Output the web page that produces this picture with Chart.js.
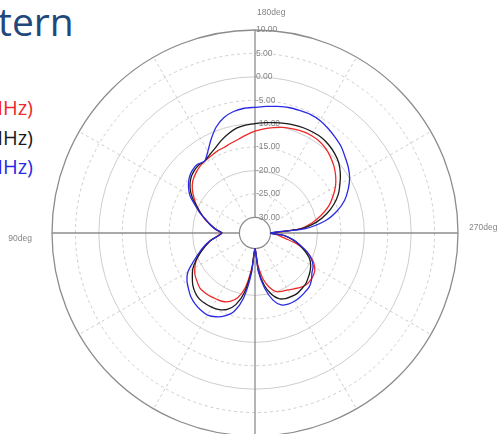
<!DOCTYPE html>
<html>
<head>
<meta charset="utf-8">
<script src="https://cdn.jsdelivr.net/npm/chart.js@4.4.1/dist/chart.umd.min.js"></script>
<style>
  html, body { margin: 0; padding: 0; width: 504px; height: 434px; overflow: hidden; background: #fff; }
  #wrap { position: absolute; left: 0; top: 0; width: 504px; height: 440px; }
  .title { position: absolute; left: -2px; top: -6px; font-family: "Open Sans"; font-size: 39px; color: #1f497d; }
  .leg { position: absolute; left: -15px; font-family: "Open Sans"; font-size: 20px; line-height: 22px; }
</style>
</head>
<body>
<div class="title">tern</div>
<div class="leg" style="top:97px;color:#f02828">MHz)</div>
<div class="leg" style="top:127px;color:#1a1a1a">MHz)</div>
<div class="leg" style="top:156px;color:#2a2ae6">MHz)</div>
<div id="wrap"><canvas id="myChart"></canvas></div>
<script>
// pattern samples, dB, for angles 0,5,...,355 deg (0deg = bottom, 90deg = left)
var angleStep = 5;
var redGain = [-30, -26.0, -21.5, -19.0, -17.8, -17.2, -17.0, -16.8, -16.7, -16.7, -17.2, -17.7, -18.5, -19.5, -20.8, -22.3, -23.6, -25.2,
  -26.0, -25.0, -23.8, -22.3, -21.0, -19.6, -18.3, -17.0, -16.0, -15.4, -14.9, -14.6, -14.4, -14.1, -13.9, -13.5, -13.0, -12.3,
  -11.6, -11.0, -10.5, -10.0, -9.7, -9.4, -9.3, -9.4, -9.8, -10.5, -11.3, -12.3, -13.5, -15.0, -16.6, -18.7, -21.0, -24.0,
  -29.5, -28.5, -26.8, -23.9, -21.6, -19.8, -18.6, -18.0, -17.8, -17.8, -18.2, -18.8, -19.3, -19.6, -20.0, -21.3, -23.3, -26.5];
var blackGain = [-30, -25.5, -20.5, -17.5, -16.0, -15.3, -15.0, -14.9, -14.9, -15.3, -16.0, -17.0, -18.0, -19.4, -20.9, -22.3, -23.6, -25.3,
  -26.3, -25.0, -23.8, -22.5, -21.0, -19.5, -17.8, -16.4, -15.4, -14.8, -14.5, -14.6, -14.0, -13.3, -12.3, -11.4, -10.6, -10.2,
  -10.0, -9.7, -9.4, -9.1, -8.8, -8.6, -8.5, -8.5, -8.8, -9.3, -10.0, -11.1, -12.4, -13.7, -15.4, -17.5, -20.0, -23.5,
  -30, -27.0, -25.2, -23.5, -22.0, -20.5, -19.6, -19.0, -18.5, -18.0, -17.8, -17.6, -17.7, -17.9, -18.4, -19.8, -22.0, -25.5];
var blueGain = [-30, -24.8, -19.2, -16.0, -14.5, -13.6, -13.1, -13.2, -13.5, -14.0, -14.8, -15.6, -16.8, -18.8, -20.5, -22.0, -23.5, -25.3,
  -26.2, -25.0, -23.7, -22.5, -20.8, -19.2, -17.3, -16.0, -15.0, -14.4, -14.2, -14.6, -13.2, -11.2, -9.2, -7.8, -7.0, -6.6,
  -6.5, -6.2, -5.9, -5.6, -5.5, -5.4, -5.6, -6.1, -6.7, -7.3, -8.2, -9.0, -10.0, -11.4, -13.0, -15.2, -18.0, -22.5,
  -30, -27.0, -25.0, -23.3, -21.5, -20.0, -19.0, -18.5, -17.6, -17.0, -16.8, -16.6, -16.5, -16.6, -17.0, -18.5, -21.3, -25.0];

var radiusTicks = [10, 5, 0, -5, -10, -15, -20, -25, -30];
var angleTicks = [180, 270, 90];
var rMin = -33.33, rMax = 10;

document.addEventListener('DOMContentLoaded', function () {

    // chart index 0 sits at the top, so start the list at 180deg and go clockwise
    var labels = [];
    var red = [], black = [], blue = [];
    var n = 360 / angleStep;
    for (var i = 0; i < n; i++) {
        var a = (180 + i * angleStep) % 360;
        var k = a / angleStep;
        labels.push(a);
        red.push(redGain[k]);
        black.push(blackGain[k]);
        blue.push(blueGain[k]);
    }

    function angleAt(index) {
        return labels[index];
    }

    var polarExtras = {
        id: 'polarExtras',
        beforeDatasetsDraw: function (chart) {
            var s = chart.scales.r;
            var ctx = chart.ctx;
            var r0 = s.getDistanceFromCenterForValue(-30);
            var R = s.getDistanceFromCenterForValue(rMax);
            ctx.save();
            ctx.beginPath();
            ctx.arc(s.xCenter, s.yCenter, r0, 0, Math.PI * 2);
            ctx.fillStyle = '#fff';
            ctx.fill();
            ctx.lineWidth = 1.2;
            ctx.strokeStyle = '#8c8c8c';
            ctx.stroke();

            ctx.font = '8.5px "Liberation Sans"';
            ctx.fillStyle = '#858585';
            ctx.textBaseline = 'middle';
            ctx.textAlign = 'left';
            radiusTicks.forEach(function (v) {
                ctx.fillText(v.toFixed(2), s.xCenter + 1, s.yCenter - s.getDistanceFromCenterForValue(v));
            });

            angleTicks.forEach(function (a) {
                var idx = labels.indexOf(a);
                var p;
                if (a === 180) {
                    p = s.getPointPosition(idx, R + 17);
                    ctx.textAlign = 'left';
                    ctx.fillText(a + 'deg', p.x + 2, p.y);
                } else if (a === 270) {
                    p = s.getPointPosition(idx, R + 11);
                    ctx.textAlign = 'left';
                    ctx.fillText(a + 'deg', p.x, p.y - 5);
                } else {
                    p = s.getPointPosition(idx, R + 20);
                    ctx.textAlign = 'right';
                    ctx.fillText(a + 'deg', p.x, p.y + 6);
                }
            });
            ctx.restore();
        }
    };

    var ctx = document.getElementById('myChart');
    var polarChart = new Chart(ctx, {
        type: 'radar',
        data: {
            labels: labels,
            datasets: [
                { label: 'blue', data: blue, borderColor: '#2a2ae6' },
                { label: 'black', data: black, borderColor: '#1a1a1a' },
                { label: 'red', data: red, borderColor: '#f02828' }
            ]
        },
        options: {
            responsive: true,
            maintainAspectRatio: false,
            animation: false,
            layout: { padding: { left: 52, right: 46, top: 30, bottom: 4 } },
            elements: {
                line: { borderWidth: 1.3, tension: 0.25, fill: false },
                point: { radius: 0, hitRadius: 0 }
            },
            plugins: {
                legend: { display: false },
                tooltip: { enabled: false }
            },
            scales: {
                r: {
                    min: rMin,
                    max: rMax,
                    ticks: { display: false, stepSize: 5 },
                    pointLabels: { display: false },
                    grid: {
                        circular: true,
                        color: function (c) {
                            var v = c.tick.value;
                            if (v === rMax) return '#8c8c8c';
                            if (v <= -30) return 'rgba(0,0,0,0)';
                            return '#cdcdcd';
                        },
                        lineWidth: function (c) {
                            return c.tick.value === rMax ? 1.3 : 1;
                        }
                    },
                    border: {
                        dash: function (c) {
                            return (c.tick && c.tick.value % 10 !== 0) ? [3, 3] : [];
                        }
                    },
                    angleLines: {
                        color: function (c) {
                            var a = angleAt(c.index);
                            if (a % 90 === 0) return '#8c8c8c';
                            if (a % 30 === 0) return '#cdcdcd';
                            return 'rgba(0,0,0,0)';
                        },
                        lineWidth: function (c) {
                            var a = angleAt(c.index);
                            if (a % 90 === 0) return 1.3;
                            if (a % 30 === 0) return 1;
                            return 0;
                        },
                        borderDash: function (c) {
                            return angleAt(c.index) % 90 === 0 ? [] : [3, 3];
                        }
                    }
                }
            }
        },
        plugins: [polarExtras]
    });

});
</script>
</body>
</html>
